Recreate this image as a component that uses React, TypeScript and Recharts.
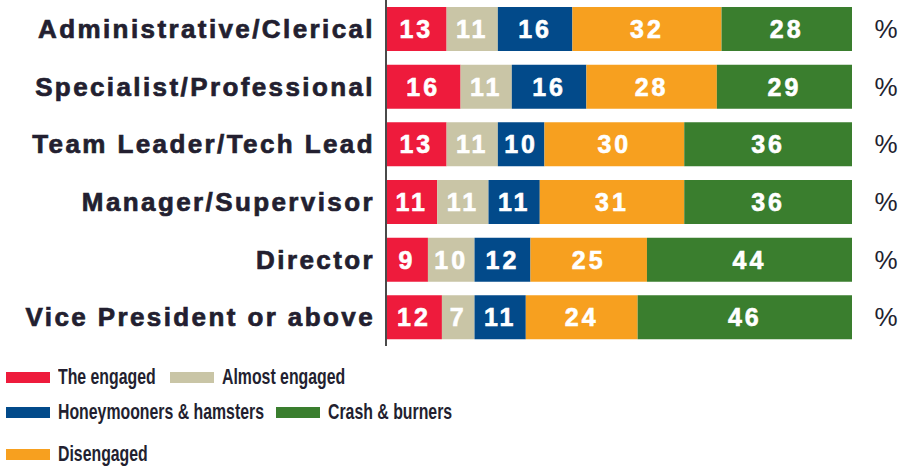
import { BarChart, Bar, XAxis, YAxis, LabelList, Legend } from 'recharts'

const categories = [
  'Administrative/Clerical',
  'Specialist/Professional',
  'Team Leader/Tech Lead',
  'Manager/Supervisor',
  'Director',
  'Vice President or above',
]

const engaged = [13, 16, 13, 11, 9, 12]
const almostEngaged = [11, 11, 11, 11, 10, 7]
const honeymooners = [16, 16, 10, 11, 12, 11]
const disengaged = [32, 28, 30, 31, 25, 24]
const crashBurners = [28, 29, 36, 36, 44, 46]

const series = [
  { key: 'engaged', name: 'The engaged', color: '#ee1b3c', values: engaged },
  { key: 'almost', name: 'Almost engaged', color: '#c9c5a6', values: almostEngaged },
  { key: 'honey', name: 'Honeymooners & hamsters', color: '#024a8a', values: honeymooners },
  { key: 'diseng', name: 'Disengaged', color: '#f7a01f', values: disengaged },
  { key: 'crash', name: 'Crash & burners', color: '#3a7e2e', values: crashBurners },
]

// legend placement as in the original print layout (left, top of each item)
const legendSlots: Record<string, [number, number]> = {
  'The engaged': [6, 366],
  'Almost engaged': [170, 366],
  'Honeymooners & hamsters': [6, 401],
  'Crash & burners': [276, 401],
  Disengaged: [6, 443],
}

const data = categories.map((name, i) => {
  const row: Record<string, string | number> = { name }
  series.forEach((s) => {
    row[s.key] = s.values[i]
  })
  return row
})

const WIDE_FONT = 'Arial, "Liberation Sans", sans-serif'

function PercentLabel(props: any) {
  const { x, y, width, height } = props
  return (
    <text
      x={Number(x) + Number(width) + 34}
      y={Number(y) + Number(height) / 2}
      textAnchor="middle"
      dominantBaseline="central"
      fontFamily={WIDE_FONT}
      fontSize={26}
      fill="#231f30"
    >
      %
    </text>
  )
}

function renderLegend(props: any) {
  const payload: any[] = props.payload || []
  return (
    <div style={{ position: 'relative', width: 903, height: 0 }}>
      {payload.map((p) => {
        const slot = legendSlots[p.value] || [0, 0]
        return (
          <div
            key={p.value}
            style={{
              position: 'absolute',
              left: slot[0],
              top: slot[1] - 366,
              height: 22,
              display: 'flex',
              alignItems: 'center',
              whiteSpace: 'nowrap',
            }}
          >
            <span
              style={{
                display: 'inline-block',
                width: 44,
                height: 11,
                background: p.color,
                marginRight: 8,
              }}
            />
            <span
              style={{
                display: 'inline-block',
                fontFamily: WIDE_FONT,
                fontWeight: 'bold',
                fontSize: 22,
                lineHeight: '22px',
                color: '#231f30',
                transform: 'scaleX(0.72)',
                transformOrigin: 'left center',
              }}
            >
              {p.value}
            </span>
          </div>
        )
      })}
    </div>
  )
}

export default function App() {
  return (
    <div style={{ position: 'absolute', left: 0, top: 0, background: '#fff' }}>
      <BarChart
        width={903}
        height={466}
        data={data}
        layout="vertical"
        margin={{ top: 0, right: 51, left: 0, bottom: 120 }}
        barCategoryGap={7}
      >
        <XAxis type="number" domain={[0, 100]} hide />
        <YAxis
          type="category"
          dataKey="name"
          width={386}
          tickLine={false}
          tickSize={0}
          tickMargin={11}
          axisLine={{ stroke: '#4a4a4a', strokeWidth: 2 }}
          tick={{
            fontSize: 26,
            fontWeight: 'bold',
            fill: '#231f30',
            stroke: '#231f30',
            strokeWidth: 0.7,
            fontFamily: WIDE_FONT,
            letterSpacing: 2.4,
          }}
        />
        <Legend
          content={renderLegend}
          wrapperStyle={{ position: 'absolute', top: 366, left: 0, width: 903, height: 0 }}
        />
        {series.map((s, i) => (
          <Bar
            key={s.key}
            dataKey={s.key}
            name={s.name}
            stackId="a"
            fill={s.color}
            isAnimationActive={false}
          >
            <LabelList
              dataKey={s.key}
              position="center"
              fill="#fff"
              stroke="#fff"
              strokeWidth={0.6}
              fontSize={25}
              fontWeight="bold"
              fontFamily={WIDE_FONT}
              letterSpacing={3}
            />
            {i === series.length - 1 && <LabelList dataKey={s.key} content={PercentLabel} />}
          </Bar>
        ))}
      </BarChart>
    </div>
  )
}
